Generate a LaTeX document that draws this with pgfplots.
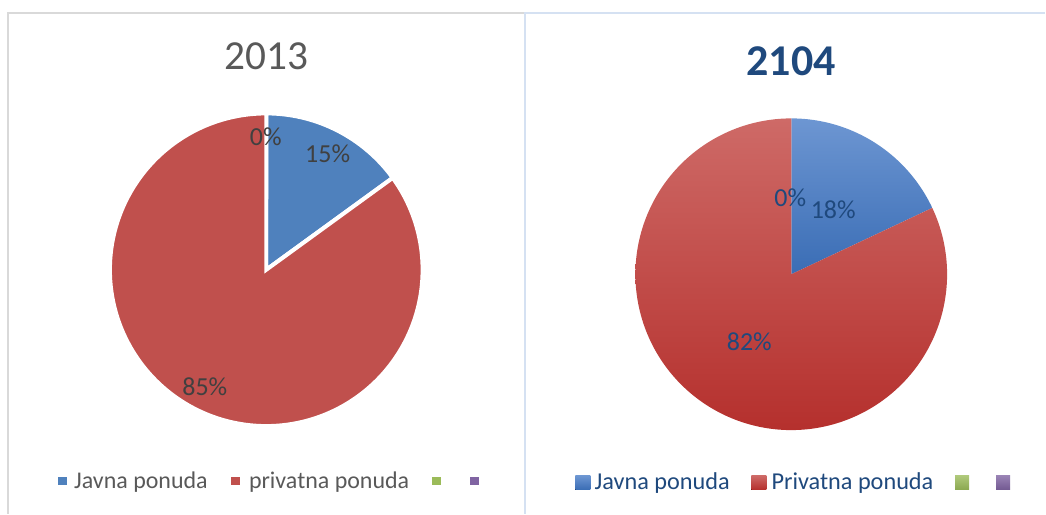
\documentclass[border=0pt]{standalone}
\usepackage{pgfplots}
\pgfplotsset{compat=1.18}
\usepackage{pgfplotstable}
\usepackage{fontspec}
\setmainfont{Carlito}
\definecolor{blueA}{HTML}{4F81BD}
\definecolor{redA}{HTML}{C0504D}
\definecolor{greenA}{HTML}{9BBB59}
\definecolor{purpleA}{HTML}{8064A2}
\definecolor{grayT}{HTML}{595959}
\definecolor{grayL}{HTML}{404040}
\definecolor{navy}{HTML}{1F497D}
\definecolor{frameG}{HTML}{D9D9D9}
\definecolor{frameB}{HTML}{D5E1F2}
\definecolor{blueTop}{HTML}{6D96D2}
\definecolor{blueBot}{HTML}{3A6DB5}
\definecolor{redTop}{HTML}{CE6A67}
\definecolor{redBot}{HTML}{B5302D}

\pgfplotstableread{
share value
Javna 15
privatna 85
c3 0
c4 0
}\leftdata
\pgfplotstableread{
share value
Javna 18
Privatna 82
c3 0
c4 0
}\rightdata

\begin{document}
\begin{tikzpicture}
\pgfplotstablegetelem{0}{value}\of\leftdata \let\LA\pgfplotsretval
\pgfplotstablegetelem{0}{value}\of\rightdata \let\RA\pgfplotsretval
\pgfmathsetmacro\angLA{90-3.6*\LA}
\pgfmathsetmacro\angRA{90-3.6*\RA}
\begin{axis}[
  scale only axis, width=784.5pt, height=385.5pt,
  xmin=0, xmax=1046, ymin=0, ymax=514,
  hide axis, clip=false,
]
\path (axis cs:0,0) rectangle (axis cs:1046,514);
% frames
\draw[frameG, line width=1.5pt] (axis cs:8,0) -- (axis cs:8,501) -- (axis cs:524,501);
\draw[frameB, line width=1.5pt] (axis cs:525,0) -- (axis cs:525,501) -- (axis cs:1046,501);

% left pie
\addplot[fill=blueA, draw=white, line width=3pt, line join=miter, domain=\angLA:90, samples=80, variable=\t]
  ({266.5+156.5*cos(\t)},{244+156.5*sin(\t)}) -- (axis cs:266.5,244) -- cycle;
\addplot[fill=redA, draw=white, line width=3pt, line join=miter, domain=-270:\angLA, samples=200, variable=\t]
  ({266.5+156.5*cos(\t)},{244+156.5*sin(\t)}) -- (axis cs:266.5,244) -- cycle;

% right pie
\addplot[top color=blueTop, bottom color=blueBot, draw=none, domain=\angRA:90, samples=80, variable=\t]
  ({792+156*cos(\t)},{239.5+156*sin(\t)}) -- (axis cs:792,239.5) -- cycle;
\addplot[top color=redTop, bottom color=redBot, draw=none, domain=-270:\angRA, samples=200, variable=\t]
  ({792+156*cos(\t)},{239.5+156*sin(\t)}) -- (axis cs:792,239.5) -- cycle;

% titles
\node[text=grayT, font=\fontsize{31}{36}\selectfont] at (axis cs:266.5,458) {2013};
\node[text=navy, font=\fontsize{33}{38}\selectfont\bfseries] at (axis cs:792,453) {2104};

% data labels
\node[text=grayL, font=\fontsize{19.5}{22}\selectfont] at (axis cs:266,377) {0\%};
\node[text=grayL, font=\fontsize{19.5}{22}\selectfont] at (axis cs:328,360) {15\%};
\node[text=grayL, font=\fontsize{19.5}{22}\selectfont] at (axis cs:205,127) {85\%};
\node[text=navy, font=\fontsize{19.5}{22}\selectfont] at (axis cs:791,316) {0\%};
\node[text=navy, font=\fontsize{19.5}{22}\selectfont] at (axis cs:834,304) {18\%};
\node[text=navy, font=\fontsize{19.5}{22}\selectfont] at (axis cs:750,172) {82\%};

% left legend
\fill[blueA] (axis cs:58,29) rectangle (axis cs:67,37);
\node[anchor=base west, inner sep=0pt, text=grayT, font=\fontsize{18}{22}\selectfont] at (axis cs:74,25) {Javna ponuda};
\fill[redA] (axis cs:231,29) rectangle (axis cs:240,37);
\node[anchor=base west, inner sep=0pt, text=grayT, font=\fontsize{18}{22}\selectfont] at (axis cs:249,25) {privatna ponuda};
\fill[greenA] (axis cs:432,29) rectangle (axis cs:441,37);
\fill[purpleA] (axis cs:470,29) rectangle (axis cs:479,37);

% right legend
\fill[top color=blueTop, bottom color=blueBot] (axis cs:576,24) rectangle (axis cs:591,38);
\node[anchor=base west, inner sep=0pt, text=navy, font=\fontsize{18.2}{22}\selectfont] at (axis cs:595,24) {Javna ponuda};
\fill[top color=redTop, bottom color=redBot] (axis cs:752,24) rectangle (axis cs:767,38);
\node[anchor=base west, inner sep=0pt, text=navy, font=\fontsize{18.2}{22}\selectfont] at (axis cs:772,24) {Privatna ponuda};
\fill[top color=greenA!80!white, bottom color=greenA!90!black] (axis cs:956,24) rectangle (axis cs:970,38);
\fill[top color=purpleA!80!white, bottom color=purpleA!90!black] (axis cs:997,24) rectangle (axis cs:1011,38);
\end{axis}
\end{tikzpicture}
\end{document}
